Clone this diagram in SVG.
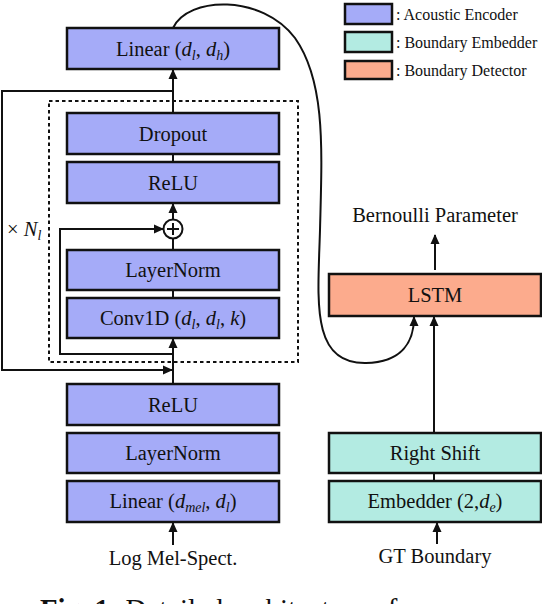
<svg xmlns="http://www.w3.org/2000/svg" width="542" height="604" viewBox="0 0 542 604" font-family="'Liberation Serif', 'Times New Roman', 'DejaVu Serif', serif">
<style>
text{font-family:'Liberation Serif','Times New Roman','DejaVu Serif',serif;fill:#111;}
.lbl{font-size:20.5px;text-anchor:middle;}
.leg{font-size:16px;}
.enc{fill:#a5abf8;stroke:#111;stroke-width:2.5;}
.emb{fill:#b3ebe2;stroke:#111;stroke-width:2.5;}
.det{fill:#fcab8d;stroke:#111;stroke-width:2.5;}
.ln{fill:none;stroke:#111;stroke-width:2;}
.ar{fill:none;stroke:#111;stroke-width:2;marker-end:url(#ah);}
.it{font-style:italic;}
.sub{font-size:14px;font-style:italic;}
</style>
<defs>
<marker id="ah" markerWidth="10" markerHeight="10" refX="9" refY="5" orient="auto" markerUnits="userSpaceOnUse">
<path d="M0,0.5 L10,5 L0,9.5 Z" fill="#111"/>
</marker>
</defs>

<g id="legend">
<rect class="enc" x="345" y="4" width="47" height="20"/>
<rect class="emb" x="345" y="32" width="47" height="20"/>
<rect class="det" x="345" y="61" width="47" height="18"/>
<text class="leg" x="396" y="20">: Acoustic Encoder</text>
<text class="leg" x="396" y="48">: Boundary Embedder</text>
<text class="leg" x="396" y="76">: Boundary Detector</text>
</g>

<g id="connectors">
<line class="ar" x1="173" y1="113" x2="173" y2="70"/>
<line class="ln" x1="173" y1="154" x2="173" y2="162"/>
<line class="ar" x1="173" y1="219" x2="173" y2="204"/>
<line class="ln" x1="173" y1="239" x2="173" y2="250"/>
<line class="ln" x1="173" y1="290" x2="173" y2="298"/>
<line class="ar" x1="173" y1="384" x2="173" y2="339"/>
<polyline class="ar" points="173,354 60,354 60,229 163,229"/>
<polyline class="ar" points="173,91 2,91 2,370 172,370"/>
<line class="ar" x1="173" y1="545" x2="173" y2="523"/>
<line class="ar" x1="435" y1="270" x2="435" y2="235"/>
<line class="ar" x1="434" y1="433" x2="434" y2="317"/>
<line class="ln" x1="434" y1="473" x2="434" y2="481"/>
<line class="ar" x1="437" y1="544" x2="437" y2="523"/>
<path class="ar" d="M173,28 C188,-4 262,-6 295,38 C326,82 322,150 320,230 C318,300 310,364 366,363 C402,362 414,342 414,317"/>
</g>

<rect id="repeat-block" x="49" y="101" width="249" height="261" fill="none" stroke="#111" stroke-width="2" stroke-dasharray="3.5,3"/>

<g id="linear-out">
<rect class="enc" x="67" y="28" width="212" height="41"/>
<text class="lbl" x="173" y="56">Linear (<tspan class="it">d</tspan><tspan class="sub" dy="4">l</tspan><tspan dy="-4">, </tspan><tspan class="it">d</tspan><tspan class="sub" dy="4">h</tspan><tspan dy="-4">)</tspan></text>
</g>
<g id="dropout">
<rect class="enc" x="67" y="113" width="212" height="41"/>
<text class="lbl" x="173" y="141">Dropout</text>
</g>
<g id="relu1">
<rect class="enc" x="67" y="162" width="212" height="41"/>
<text class="lbl" x="173" y="190">ReLU</text>
</g>
<g id="add">
<circle cx="173" cy="229" r="9.5" fill="#fff" stroke="#111" stroke-width="2"/>
<line class="ln" x1="167" y1="229" x2="179" y2="229" stroke-width="1.6"/>
<line class="ln" x1="173" y1="223" x2="173" y2="235" stroke-width="1.6"/>
</g>
<g id="layernorm1">
<rect class="enc" x="67" y="250" width="212" height="40"/>
<text class="lbl" x="173" y="277">LayerNorm</text>
</g>
<g id="conv1d">
<rect class="enc" x="67" y="298" width="212" height="40"/>
<text class="lbl" x="173" y="325">Conv1D (<tspan class="it">d</tspan><tspan class="sub" dy="4">l</tspan><tspan dy="-4">, </tspan><tspan class="it">d</tspan><tspan class="sub" dy="4">l</tspan><tspan dy="-4">, </tspan><tspan class="it">k</tspan>)</text>
</g>
<g id="times-n">
<text x="7" y="236" font-size="20.5">× <tspan class="it">N</tspan><tspan class="sub" dy="4">l</tspan></text>
</g>
<g id="relu2">
<rect class="enc" x="67" y="384" width="212" height="41"/>
<text class="lbl" x="173" y="412">ReLU</text>
</g>
<g id="layernorm2">
<rect class="enc" x="67" y="433" width="212" height="40"/>
<text class="lbl" x="173" y="460">LayerNorm</text>
</g>
<g id="linear-in">
<rect class="enc" x="67" y="481" width="212" height="41"/>
<text class="lbl" x="173" y="508">Linear (<tspan class="it">d</tspan><tspan class="sub" dy="4">mel</tspan><tspan dy="-4">, </tspan><tspan class="it">d</tspan><tspan class="sub" dy="4">l</tspan><tspan dy="-4">)</tspan></text>
</g>
<g id="log-mel">
<text class="lbl" x="173" y="565">Log Mel-Spect.</text>
</g>

<g id="bernoulli">
<text class="lbl" x="435" y="222">Bernoulli Parameter</text>
</g>
<g id="lstm">
<rect class="det" x="329" y="274" width="212" height="42"/>
<text class="lbl" x="435" y="302">LSTM</text>
</g>
<g id="right-shift">
<rect class="emb" x="329" y="433" width="212" height="40"/>
<text class="lbl" x="435" y="460">Right Shift</text>
</g>
<g id="embedder">
<rect class="emb" x="329" y="481" width="212" height="41"/>
<text class="lbl" x="435" y="508">Embedder (2,<tspan class="it">d</tspan><tspan class="sub" dy="4">e</tspan><tspan dy="-4">)</tspan></text>
</g>
<g id="gt-boundary">
<text class="lbl" x="435" y="563">GT Boundary</text>
</g>

<text x="40" y="619" font-size="28.8"><tspan font-weight="bold">Fig. 1:</tspan> Detailed architecture of</text>
</svg>
